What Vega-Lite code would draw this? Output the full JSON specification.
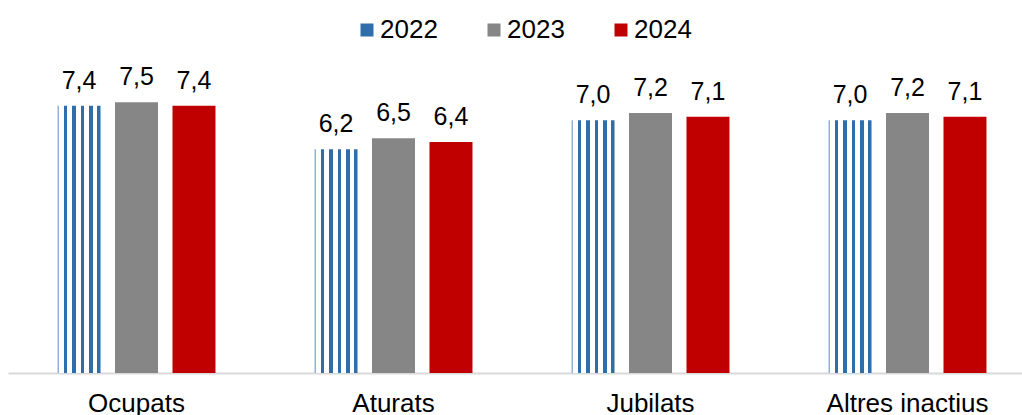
{
  "$schema": "https://vega.github.io/schema/vega-lite/v6.json",
  "autosize": "none",
  "width": 1014,
  "height": 361,
  "padding": {"left": 8, "top": 12, "right": 0, "bottom": 42},
  "background": "white",
  "config": {
    "view": {"stroke": null},
    "font": "Liberation Sans",
    "locale": {"number": {"decimal": ",", "thousands": ".", "grouping": [3], "currency": ["", " €"]}}
  },
  "data": {
    "values": [
      {"cat": "Ocupats", "year": "2022", "v": 7.4},
      {"cat": "Ocupats", "year": "2023", "v": 7.5},
      {"cat": "Ocupats", "year": "2024", "v": 7.4},
      {"cat": "Aturats", "year": "2022", "v": 6.2},
      {"cat": "Aturats", "year": "2023", "v": 6.5},
      {"cat": "Aturats", "year": "2024", "v": 6.4},
      {"cat": "Jubilats", "year": "2022", "v": 7.0},
      {"cat": "Jubilats", "year": "2023", "v": 7.2},
      {"cat": "Jubilats", "year": "2024", "v": 7.1},
      {"cat": "Altres inactius", "year": "2022", "v": 7.0},
      {"cat": "Altres inactius", "year": "2023", "v": 7.2},
      {"cat": "Altres inactius", "year": "2024", "v": 7.1}
    ]
  },
  "encoding": {
    "x": {
      "field": "cat", "type": "nominal", "sort": null,
      "scale": {"range": [0, 1028], "paddingInner": 0.329, "paddingOuter": 0.1645},
      "axis": {
        "title": null, "labelAngle": 0, "ticks": false, "grid": false,
        "domainColor": "#D9D9D9", "domainWidth": 2,
        "labelFontSize": 26, "labelColor": "#000000", "labelPadding": 17,
        "labelFont": "Liberation Sans"
      }
    },
    "xOffset": {"field": "year", "type": "nominal", "scale": {"paddingInner": 0.252, "paddingOuter": 0.126}},
    "y": {
      "field": "v", "type": "quantitative",
      "scale": {"domain": [0, 10], "nice": false, "zero": true},
      "axis": null
    }
  },
  "layer": [
    {
      "mark": {"type": "bar"},
      "encoding": {
        "fill": {
          "condition": {
            "test": "datum.year === '2022'",
            "value": {
              "gradient": "linear", "x1": 0, "x2": 1, "y1": 0, "y2": 0,
              "stops": [
                {"offset": 0, "color": "#8FB2D8"},
                {"offset": 0.03, "color": "#8FB2D8"},
                {"offset": 0.03, "color": "#FFFFFF"},
                {"offset": 0.146, "color": "#FFFFFF"},
                {"offset": 0.146, "color": "#2F6EA8"},
                {"offset": 0.23, "color": "#2F6EA8"},
                {"offset": 0.23, "color": "#FFFFFF"},
                {"offset": 0.34, "color": "#FFFFFF"},
                {"offset": 0.34, "color": "#2F6EA8"},
                {"offset": 0.425, "color": "#2F6EA8"},
                {"offset": 0.425, "color": "#FFFFFF"},
                {"offset": 0.535, "color": "#FFFFFF"},
                {"offset": 0.535, "color": "#2F6EA8"},
                {"offset": 0.62, "color": "#2F6EA8"},
                {"offset": 0.62, "color": "#FFFFFF"},
                {"offset": 0.73, "color": "#FFFFFF"},
                {"offset": 0.73, "color": "#2F6EA8"},
                {"offset": 0.815, "color": "#2F6EA8"},
                {"offset": 0.815, "color": "#FFFFFF"},
                {"offset": 0.91, "color": "#FFFFFF"},
                {"offset": 0.91, "color": "#2F6EA8"},
                {"offset": 1, "color": "#2F6EA8"}
              ]
            }
          },
          "field": "year", "type": "nominal",
          "scale": {"domain": ["2022", "2023", "2024"], "range": ["#2F6EA8", "#868686", "#C00000"]},
          "legend": {
            "title": null, "orient": "none", "direction": "horizontal",
            "legendX": 346, "legendY": 5,
            "symbolType": "square", "symbolSize": 169, "symbolStrokeWidth": 0,
            "labelFontSize": 26, "labelColor": "#000000", "labelOffset": 0,
            "columnPadding": 43, "labelFont": "Liberation Sans"
          }
        }
      }
    },
    {
      "mark": {"type": "text", "baseline": "alphabetic", "dy": -17, "fontSize": 25, "color": "#000000", "font": "Liberation Sans"},
      "encoding": {
        "text": {"field": "v", "type": "quantitative", "format": ".1f"}
      }
    }
  ]
}
